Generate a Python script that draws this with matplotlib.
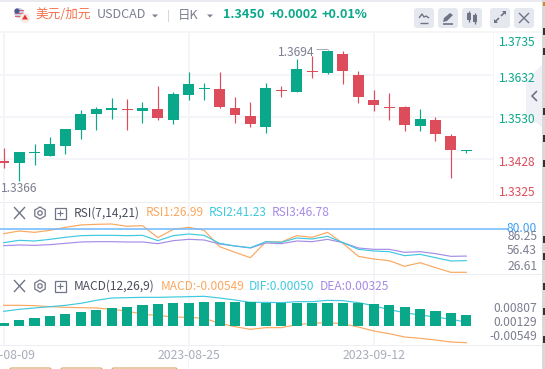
import matplotlib
matplotlib.use('Agg')
import matplotlib.pyplot as plt
from matplotlib.patches import Rectangle, FancyBboxPatch, Circle, Polygon, RegularPolygon

plt.rcParams['font.family'] = ['Noto Sans CJK SC', 'DejaVu Sans']

W, H = 545, 369

# daily candles
opens = [1.34231, 1.34191, 1.34434, 1.34353, 1.34604, 1.34992, 1.35381, 1.35478, 1.35494, 1.35454,
         1.35494, 1.35235, 1.35842, 1.35988, 1.3598, 1.35518, 1.35324, 1.35065, 1.35947, 1.35915,
         1.36417, 1.36376, 1.3683, 1.3632, 1.35713, 1.35543, 1.35543, 1.35089, 1.35227, 1.34838, 1.34482]
closes = [1.34191, 1.3445, 1.3445, 1.34644, 1.35008, 1.35373, 1.35494, 1.35518, 1.35478, 1.35518,
          1.35284, 1.35858, 1.36101, 1.36004, 1.35551, 1.35357, 1.35138, 1.36004, 1.35931, 1.36465,
          1.36401, 1.36902, 1.36425, 1.35794, 1.35599, 1.35526, 1.35114, 1.35251, 1.34895, 1.34507, 1.34499]
highs = [1.34547, 1.3445, 1.34636, 1.34814, 1.35008, 1.3547, 1.35543, 1.35761, 1.35737, 1.35664,
         1.36053, 1.35907, 1.36393, 1.36125, 1.36393, 1.35785, 1.35664, 1.36125, 1.36053, 1.36708,
         1.36781, 1.36927, 1.36902, 1.36417, 1.35955, 1.35883, 1.35567, 1.35494, 1.353, 1.34887, 1.34499]
lows = [1.3407, 1.33754, 1.34142, 1.34353, 1.3441, 1.34774, 1.34992, 1.35259, 1.34992, 1.35162,
        1.35235, 1.35138, 1.35721, 1.35721, 1.35526, 1.35162, 1.35065, 1.34919, 1.35785, 1.35915,
        1.36255, 1.36352, 1.36109, 1.35648, 1.35454, 1.35235, 1.34968, 1.34968, 1.34725, 1.33827, 1.34434]
price_grid = [1.3632, 1.3530, 1.3428]

rsi1 = [74.12, 77.38, 75.75, 78.19, 81.87, 84.71, 85.52, 85.92, 83.09, 83.9, 69.25, 79.41, 81.87, 78.19, 58.26, 51.35,
        44.85, 64.37, 63.96, 71.69, 69.65, 75.75, 62.33, 46.47, 43.22, 41.18, 34.27, 38.74, 32.64, 26.95, 26.99]
rsi2 = [63.15, 66.0, 65.18, 67.21, 69.65, 71.69, 72.09, 72.09, 71.69, 72.09, 65.59, 71.69, 73.71, 72.09, 62.33, 59.08,
        57.04, 64.37, 63.55, 68.84, 67.62, 70.87, 63.15, 55.01, 52.97, 52.16, 47.28, 48.91, 44.85, 40.78, 41.23]
rsi3 = [59.49, 60.3, 59.89, 60.71, 62.33, 63.96, 64.37, 64.37, 63.96, 63.96, 61.93, 65.59, 67.21, 66.4, 61.52, 59.08,
        56.64, 62.74, 61.93, 65.18, 64.37, 67.21, 63.15, 56.64, 55.01, 55.01, 51.35, 52.16, 49.72, 46.47, 46.78]
rsi_line = 80.0

macd_bars = [0.00089, 0.00177, 0.00236, 0.00296, 0.00355, 0.00414, 0.00473, 0.00532, 0.00561, 0.00621, 0.0065,
             0.0068, 0.0068, 0.00709, 0.00709, 0.00709, 0.00709, 0.0069, 0.0068, 0.0068, 0.0068, 0.0068, 0.0068,
             0.0068, 0.0065, 0.00621, 0.00561, 0.00502, 0.00443, 0.00384, 0.00325]
macd_line = [0.00611, 0.00611, 0.00601, 0.00571, 0.00552, 0.00542, 0.00532, 0.00493, 0.00443, 0.00345, 0.00315,
             0.00266, 0.00256, 0.00227, 0.00079, -0.0002, -0.00099, -0.00049, -0.00049, 0.00039, 0.00079, 0.00099,
             0.00069, -0.0003, -0.00148, -0.00227, -0.00325, -0.00364, -0.00414, -0.00473, -0.00493]
dif_line = [0.00433, 0.00493, 0.00532, 0.00571, 0.00611, 0.0067, 0.00758, 0.00827, 0.00837, 0.00847, 0.00847,
            0.00857, 0.00867, 0.00877, 0.00827, 0.00768, 0.00699, 0.00699, 0.0069, 0.00719, 0.00719, 0.00758,
            0.00749, 0.0069, 0.00601, 0.00483, 0.00394, 0.00325, 0.00266, 0.00197, 0.00118]

date_ticks = [0, 12, 24]
date_labels = ['2023-08-09', '2023-08-25', '2023-09-12']

GREEN = '#0aa88a'
RED = '#dc4c5b'
ORANGE = '#fba85f'
CYAN = '#3fc9e0'
PURPLE = '#a68ce6'
BLUE = '#6fb9ff'
GREY = '#7b7f90'
GRID = '#f3f5f8'
EDGE = '#eceef2'

fig = plt.figure(figsize=(W / 100, H / 100), dpi=100, facecolor='white')


def panel(y0, y1, ylim, x1=493):
    ax = fig.add_axes([0, 1 - y1 / H, x1 / W, (y1 - y0) / H])
    ax.set_xlim(-0.24, 31.73)
    ax.set_ylim(*ylim)
    ax.patch.set_alpha(0)
    for s in ax.spines.values():
        s.set_visible(False)
    ax.tick_params(length=0, labelleft=False, labelbottom=False)
    ax.set_xticks(date_ticks)
    ax.set_yticks([])
    ax.grid(axis='x', color=GRID, lw=1.4)
    ax.set_axisbelow(True)
    return ax


# price panel
ax = panel(33, 201, (1.3428 + (159 - 201) / 4118, 1.3428 + (159 - 33) / 4118))
ax.set_yticks(price_grid)
ax.grid(axis='y', color=GRID, lw=1.4)
for i in range(len(opens)):
    c = GREEN if closes[i] >= opens[i] else RED
    ax.vlines(i, lows[i], highs[i], color=c, lw=0.85)
    ax.bar(i, abs(closes[i] - opens[i]), bottom=min(opens[i], closes[i]), width=0.71, color=c)

# RSI panel
ax2 = panel(203, 274, (26.99 + (272.3 - 274) * 1.22, 26.99 + (272.3 - 203) * 1.22))
days = range(len(rsi1))
ax2.plot(days, rsi1, color=ORANGE, lw=0.85)
ax2.plot(days, rsi3, color=PURPLE, lw=0.85)
ax2.plot(days, rsi2, color=CYAN, lw=0.85)
ax2.axhline(rsi_line, color=BLUE, lw=1.1, xmax=1.03, clip_on=False)

# MACD panel
ax3 = panel(275, 345, ((326 - 345) * 0.0002955, (326 - 275) * 0.0002955))
ax3.plot(days, macd_line, color=ORANGE, lw=0.85, zorder=2)
ax3.plot(days, dif_line, color=CYAN, lw=0.85, zorder=2)
ax3.bar(days, macd_bars, width=0.66, color=GREEN, zorder=3)
ax3.set_xticks(date_ticks, date_labels)
ax3.tick_params(labelbottom=True, labelsize=8.8, labelcolor='#a9acba', pad=3)

# everything around the plots, in pixel coordinates
ui = fig.add_axes([0, 0, 1, 1], zorder=10)
ui.set_xlim(0, W)
ui.set_ylim(H, 0)
ui.axis('off')
ui.patch.set_alpha(0)


def label(x, y, s, color=GREY, size=8.7, ha='left', **kw):
    ui.text(x, y, s, color=color, fontsize=size, ha=ha, va='center', **kw)


def line(xs, ys, color='#6f7385', lw=1.0):
    ui.plot(xs, ys, color=color, lw=lw, solid_capstyle='butt')


def rect(x0, y0, x1, y1, color):
    ui.add_patch(Rectangle((x0, y0), x1 - x0, y1 - y0, color=color, lw=0))


# page edges
rect(0, 0, W, 2, '#e9ebf0')
rect(0, 31, W - 3, 33, '#f5f6f8')
rect(542, 0, 545, H, '#d9d9d9')
rect(543, 2, 545, 6, '#d08a2a')
for yy in (28, 48, 108, 135, 160, 236, 253, 283, 308, 336):
    rect(543, yy, 545, yy + 7, '#333333')
rect(0, 201.5, 542, 202.5, EDGE)
rect(0, 273.5, 542, 274.5, EDGE)
rect(0, 344.5, 542, 345.5, EDGE)
rect(492.5, 33, 493.5, 201, GRID)
rect(187.5, 345, 188.5, H, GRID)
rect(449.5, 367, 450.5, H, GRID)

# flag
ui.add_patch(Circle((19, 13), 5, color='#c9cfe0', lw=0))
for yy in (10, 13, 16):
    rect(15, yy, 24, yy + 1.3, '#e0606a')
ui.add_patch(Circle((17, 11), 2.6, color='#4a5a95', lw=0))
ui.add_patch(Circle((25, 18), 5, color='#fbe9e6', lw=0))
ui.add_patch(Polygon([(25, 14.5), (28, 19.5), (22, 19.5)], color='#e2392f', lw=0))

# header
label(35, 15, '美元/加元', '#f4724c', 9.1)
label(96.5, 15, 'USDCAD', GREY, 9.0)
ui.add_patch(Polygon([(152, 14.5), (158, 14.5), (155, 17.5)], color=GREY, lw=0))
rect(167.7, 10, 168.5, 22, '#d5d8e0')
label(178, 15, '日K', GREY, 9.0)
ui.add_patch(Polygon([(207, 14.5), (213, 14.5), (210, 17.5)], color=GREY, lw=0))
label(223, 15, '1.3450', GREEN, 9.1, weight='bold')
label(270, 15, '+0.0002', GREEN, 9.1, weight='bold')
label(321, 15, '+0.01%', GREEN, 9.1, weight='bold')

# toolbar buttons
for x0 in (414, 438, 462, 490, 514):
    ui.add_patch(FancyBboxPatch((x0 + 2, 10), 16, 16, boxstyle='round,pad=2,rounding_size=3', color='#e6e8ef', lw=0))
line([420, 428], [22.5, 22.5])
line([419, 422, 424, 426, 429], [18, 14, 17, 16, 18])
ui.add_patch(Polygon([(443, 22), (444, 18), (450, 13), (453, 15), (447, 21)], color='#6f7385', lw=0))
line([443, 453], [23.5, 23.5], lw=1.2)
rect(467, 13, 471, 20, '#6f7385')
rect(473, 15, 477, 22, '#6f7385')
line([469, 469], [11, 22])
line([475, 475], [13, 24])
line([495, 499], [22, 18], lw=1.2)
line([501, 505], [16, 12], lw=1.2)
ui.add_patch(Polygon([(494, 23), (494, 19), (498, 23)], color='#6f7385', lw=0))
ui.add_patch(Polygon([(506, 11), (506, 15), (502, 11)], color='#6f7385', lw=0))
line([519, 529], [13, 23])
line([519, 529], [23, 13])

# price axis labels
label(536, 42, '1.3735', GREEN, ha='right')
label(536, 78, '1.3632', GREEN, ha='right')
label(536, 119.5, '1.3530', GREEN, ha='right')
label(536, 162.5, '1.3428', RED, ha='right')
label(536, 193, '1.3325', RED, ha='right')
label(278, 52.5, '1.3694')
line([316, 328], [49, 49], '#a9acba', 0.7)
label(0.5, 188.5, '1.3366')

# collapse tab, drawn over the axis labels as in the page
ui.add_patch(Polygon([(526, 80), (542, 65), (542, 127), (526, 115)], color='#eeeff5', alpha=0.85, lw=0))
line([537, 532, 537], [91, 96, 101], '#6f7385', 1.2)

# RSI row
for yy in (213, 286):
    line([14, 25], [yy - 6, yy + 6])
    line([14, 25], [yy + 6, yy - 6])
    ui.add_patch(RegularPolygon((40, yy), 6, radius=6, facecolor='none', edgecolor='#6f7385', lw=0.9))
    ui.add_patch(Circle((40, yy), 2.2, facecolor='none', edgecolor='#6f7385', lw=0.9))
    ui.add_patch(Rectangle((54.5, yy - 5.5), 11, 11, facecolor='none', edgecolor='#6f7385', lw=0.9))
    line([57, 63], [yy, yy], lw=0.8)
    line([60, 60], [yy - 3, yy + 3], lw=0.8)
label(74, 213, 'RSI(7,14,21)', '#4a4d5c', 8.6)
label(146, 213, 'RSI1:26.99', ORANGE, 8.6)
label(209, 213, 'RSI2:41.23', CYAN, 8.6)
label(272, 213, 'RSI3:46.78', PURPLE, 8.6)
label(537, 229, '80.00', '#3ea0f5', ha='right')
label(537, 236, '86.25', ha='right')
label(537, 250.5, '56.43', ha='right')
label(537, 266.5, '26.61', ha='right')

# MACD row
label(74, 286, 'MACD(12,26,9)', '#4a4d5c', 8.6)
label(161, 286, 'MACD:-0.00549', ORANGE, 8.6)
label(249, 286, 'DIF:0.00050', CYAN, 8.6)
label(320, 286, 'DEA:0.00325', PURPLE, 8.6)
label(537, 308.5, '0.00807', ha='right')
label(537, 322.5, '0.00129', ha='right')
label(537, 336.5, '-0.00549', ha='right')

# bottom of the page, buttons cut off by the crop
for x0, x1 in ((10, 51), (61, 102), (112, 177)):
    ui.add_patch(FancyBboxPatch((x0, 368), x1 - x0, 6, boxstyle='round,pad=0,rounding_size=1.5',
                                facecolor='white', edgecolor='#d9a55c', lw=0.8))

fig.savefig('out.png', dpi=100)
